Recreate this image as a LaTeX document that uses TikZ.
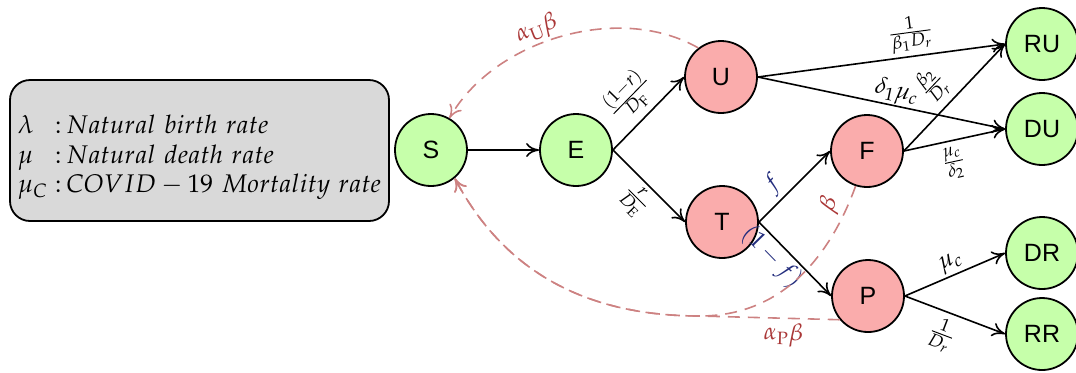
\documentclass[tikz,border=0pt]{standalone}
\usepackage{mathpazo}
\usepackage[no-math]{fontspec}
\newfontfamily\statefont{Liberation Sans}
\usepackage{tikz}
\usetikzlibrary{arrows.meta}

\definecolor{stategreen}{RGB}{198,255,170}
\definecolor{statered}{RGB}{250,172,172}
\definecolor{boxgray}{RGB}{217,217,217}
\definecolor{contactline}{RGB}{205,130,130}
\definecolor{contacttext}{RGB}{170,55,55}
\definecolor{splittext}{RGB}{35,45,125}

\begin{document}
\begin{tikzpicture}[%
    x=0.5pt, y=0.5pt,
    state/.style={circle, draw, line width=0.9pt, minimum size=36pt, inner sep=0pt,
      font=\statefont\fontsize{12.5}{14}\selectfont},
    well/.style={state, fill=stategreen},
    sick/.style={state, fill=statered},
    flow/.style={-{To[length=6.5pt, width=7pt]}, line width=0.8pt},
    contact/.style={flow, draw=contactline, dash pattern=on 6pt off 4pt},
    rate/.style={font=\fontsize{12}{14}\selectfont, sloped, inner sep=2pt}
  ]
    \useasboundingbox (0,0) rectangle (1076,-372);

    \node (legend) [%
      draw, fill=boxgray, rounded corners=10pt, line width=0.9pt,
      minimum width=189.5pt, minimum height=70.5pt,
      font=\fontsize{12.75}{14.75}\selectfont
    ] at (199.5,-150.5) {%
      \raisebox{-3.5pt}[\height][\depth]{$\begin{array}{@{}l@{\;}l@{}}
        \lambda & {:}\,Natural\ birth\ rate\\
        \mu & {:}\,Natural\ death\ rate\\
        \mu_C & {:}\,COVID-19\ Mortality\ rate
      \end{array}$}};

    \node[well] (S) at (431,-150) {S};
    \node[well] (E) at (576,-150) {E};
    \node[sick] (U) at (721,-77) {U};
    \node[sick] (T) at (722,-222) {T};
    \node[sick] (F) at (867,-151) {F};
    \node[sick] (P) at (868,-296) {P};
    \node[well] (RU) at (1042,-44) {RU};
    \node[well] (DU) at (1042,-129) {DU};
    \node[well] (DR) at (1042,-253) {DR};
    \node[well] (RR) at (1042,-334) {RR};
    \coordinate (merge) at (700,-316);

    \draw[flow] (S) -- (E);
    \draw[flow] (E.east) -- node[rate, above, pos=0.49, inner sep=3pt] {$\frac{(1-r)}{D_\mathrm{F}}$} (U.west);
    \draw[flow] (E.east) -- node[rate, below, pos=0.5] {$\frac{r}{D_\mathrm{E}}$} (T.west);
    \draw[flow] (U.east) -- node[rate, above, pos=0.63] {$\frac{1}{\beta_1 D_r}$} (RU.west);
    \draw[flow] (U.east) -- node[rate, above, pos=0.55, inner sep=0.5pt] {$\delta_1\mu_c$} (DU.west);
    \draw[flow] (T.east) -- node[rate, above, pos=0.37, text=splittext] {$f$} (F.west);
    \draw[flow] (T.east) -- node[rate, below, pos=0.33, inner sep=1pt, text=splittext] {$(1-f)$} (P.west);
    \draw[flow] (F.east) -- node[rate, above, pos=0.46, inner sep=3pt] {$\frac{\beta_2}{D_r}$} (RU.west);
    \draw[flow] (F.east) -- node[rate, below, pos=0.45, inner sep=2.5pt] {$\frac{\mu_c}{\delta_2}$} (DU.west);
    \draw[flow] (P.east) -- node[rate, above, pos=0.51, inner sep=1pt] {$\mu_c$} (DR.west);
    \draw[flow] (P.east) -- node[rate, below, pos=0.45, inner sep=3pt] {$\frac{1}{D_r}$} (RR.west);

    % infection back to S
    \draw[contact] (U.128) to[out=150, in=60, looseness=0.9]
      node[rate, above, pos=0.57, inner sep=1pt, text=contacttext] {$\alpha_\mathrm{U}\beta$} (S.60);
    \draw[contact] (F.-108) to[out=-110, in=0]
      node[rate, above, pos=0.12, text=contacttext] {$\beta$} (merge)
      to[out=180, in=-62] (S.-50);
    \draw[contact] (P.-140) --
      node[rate, below, pos=0.4, text=contacttext] {$\alpha_\mathrm{P}\beta$} (merge)
      to[out=180, in=-62] (S.-50);
  \end{tikzpicture}
\end{document}
